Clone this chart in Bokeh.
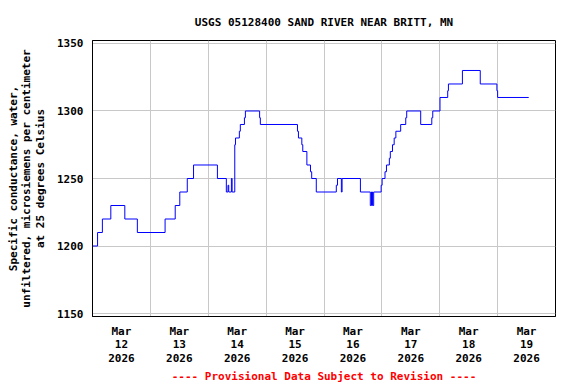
from bokeh.plotting import figure
from bokeh.models import Range1d, FixedTicker, Title
from bokeh.embed import file_html
from bokeh.resources import INLINE

# Hours after 2026-03-12 00:00 at which the reading changes, and the reading
hours = [0, 2.1, 4.1, 7.6, 13.4, 18.6, 30.1, 34.3, 36.2, 39.3, 41.9, 51.8,
         55.5, 56.2, 56.5, 57.6, 57.9, 59.0, 59.3, 60.9, 61.3, 63.0, 63.4,
         69.3, 69.6, 85.0, 85.4, 86.8, 87.2, 88.9, 90.4, 90.9, 92.8, 101.1,
         101.6, 103.2, 103.5, 111.1, 115.2, 115.7, 116.1, 116.6, 119.7, 120.1,
         121.3, 121.9, 123.1, 123.5, 124.4, 125.1, 125.8, 127.8, 129.9, 130.3,
         136.1, 140.7, 141.1, 144.1, 147.3, 147.6, 153.4, 160.8, 167.7, 168.0,
         180.9]
conductance = [1200, 1210, 1220, 1230, 1220, 1210, 1220, 1230, 1240, 1250, 1260, 1250,
               1240, 1245, 1240, 1250, 1240, 1275, 1280, 1285, 1290, 1295, 1300,
               1295, 1290, 1285, 1280, 1275, 1270, 1260, 1255, 1250, 1240, 1245,
               1250, 1240, 1250, 1240, 1230, 1240, 1230, 1240, 1245, 1250,
               1255, 1260, 1265, 1270, 1275, 1280, 1285, 1290, 1295, 1300,
               1290, 1295, 1300, 1310, 1315, 1320, 1330, 1320, 1315, 1310,
               1310]

day_gridlines = [0, 1, 2, 3, 4, 5, 6, 7, 8]
day_label_pos = [0.5, 1.5, 2.5, 3.5, 4.5, 5.5, 6.5, 7.5]
day_labels = ["Mar\n12\n2026", "Mar\n13\n2026", "Mar\n14\n2026", "Mar\n15\n2026",
              "Mar\n16\n2026", "Mar\n17\n2026", "Mar\n18\n2026", "Mar\n19\n2026"]
y_ticks = [1150, 1200, 1250, 1300, 1350]

FONT = "DejaVu Sans Mono"

days = [h / 24.0 for h in hours]

p = figure(width=576, height=384, x_range=Range1d(0, 8), y_range=Range1d(1147.8, 1352.2),
           output_backend="svg", toolbar_location=None,
           min_border_left=92, min_border_right=21, min_border_top=40, min_border_bottom=68)

p.step(days, conductance, mode="after", line_color="#0000ff", line_width=1)

p.title.text = "USGS 05128400 SAND RIVER NEAR BRITT, MN"
p.title.text_font = FONT
p.title.text_font_size = "11px"
p.title.text_font_style = "bold"
p.title.text_color = "black"
p.title.align = "center"
p.title.offset = -31
p.title.standoff = 24

p.add_layout(Title(text="---- Provisional Data Subject to Revision ----", text_color="red",
                   text_font=FONT, text_font_size="11px", text_font_style="bold",
                   align="center", standoff=1), "below")

p.xaxis.ticker = FixedTicker(ticks=day_label_pos)
p.xaxis.major_label_overrides = {pos: lab for pos, lab in zip(day_label_pos, day_labels)}
p.xgrid.ticker = FixedTicker(ticks=day_gridlines)
p.yaxis.ticker = FixedTicker(ticks=y_ticks)

for ax in (p.xaxis[0], p.yaxis[0]):
    ax.major_label_text_font = FONT
    ax.major_label_text_font_size = "11px"
    ax.major_label_text_font_style = "bold"
    ax.major_label_text_color = "black"
    ax.major_label_text_line_height = 1.05
    ax.axis_line_color = "black"
    ax.major_tick_in = 0
    ax.major_tick_out = 0
    ax.minor_tick_in = 0
    ax.minor_tick_out = 0

p.xaxis.major_label_standoff = 8
p.yaxis.major_label_standoff = 9

p.yaxis.axis_label = "Specific conductance, water,\nunfiltered, microsiemens per centimeter\nat 25 degrees Celsius"
p.yaxis.axis_label_text_font = FONT
p.yaxis.axis_label_text_font_size = "11px"
p.yaxis.axis_label_text_font_style = "bold"
p.yaxis.axis_label_text_color = "black"
p.yaxis.axis_label_text_line_height = 1.05
p.yaxis.axis_label_standoff = 7

p.grid.grid_line_color = "#c8c8c8"
p.grid.grid_line_width = 1
p.outline_line_color = "black"
p.outline_line_width = 1
p.background_fill_color = "white"
p.border_fill_color = "white"

open("out.html", "w").write(file_html(p, INLINE))
